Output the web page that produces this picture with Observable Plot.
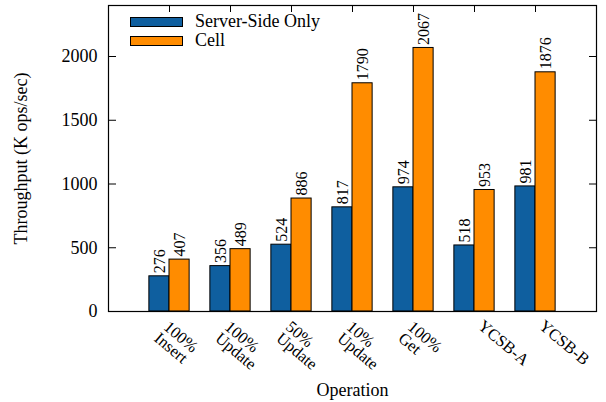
<!DOCTYPE html>
<html>
<head>
<meta charset="utf-8">
<script src="https://cdn.jsdelivr.net/npm/d3@7"></script>
<script src="https://cdn.jsdelivr.net/npm/@observablehq/plot@0.6"></script>
<style>
  html, body { margin: 0; padding: 0; background: white; }
  #wrap { position: relative; width: 606px; height: 402px; font-family: "Liberation Serif", "Times New Roman", serif; }
  #legend { position: absolute; left: 130px; top: 12px; font-size: 18px; color: black; }
  .row { display: flex; align-items: center; height: 19px; }
  .sw { width: 53px; height: 10px; box-sizing: border-box; border: 1px solid black; margin-right: 12px; }
  .lab { line-height: 19px; white-space: nowrap; }
</style>
</head>
<body>
<div id="wrap"></div>
<script>
// ---- data ----
const categories = ["100%\nInsert", "100%\nUpdate", "50%\nUpdate", "10%\nUpdate", "100%\nGet", "YCSB-A", "YCSB-B"];
const serverSide = [276, 356, 524, 817, 974, 518, 981];
const cell = [407, 489, 886, 1790, 2067, 953, 1876];
const seriesNames = ["Server-Side Only", "Cell"];
const yTicks = [0, 500, 1000, 1500, 2000];
const yLabel = "Throughput (K ops/sec)";
const xLabel = "Operation";

// ---- styles ----
const colors = ["#0f5f9f", "#ff8c00"];
const FONT = "'Liberation Serif', 'Times New Roman', serif";
const half = 0.33;
const ROT = 40;

const idx = categories.map((_, i) => i);
const multi = idx.filter(i => categories[i].includes("\n"));
const single = idx.filter(i => !categories[i].includes("\n"));

const chart = Plot.plot({
  width: 606,
  height: 402,
  marginLeft: 108,
  marginRight: 10,
  marginTop: 5,
  marginBottom: 91,
  style: { fontFamily: FONT, background: "white", color: "black" },
  x: { type: "linear", domain: [-1, 7] },
  y: { domain: [0, 2400] },
  marks: [
    // inward tick marks on all four sides
    Plot.axisY({ anchor: "right", frameAnchor: "left", ticks: yTicks, tickSize: 7, tickFormat: () => "", label: null }),
    Plot.axisY({ anchor: "left", frameAnchor: "right", ticks: yTicks, tickSize: 7, tickFormat: () => "", label: null }),
    Plot.axisX({ anchor: "bottom", frameAnchor: "top", ticks: idx, tickSize: 7, tickFormat: () => "", label: null }),
    Plot.axisX({ anchor: "top", frameAnchor: "bottom", ticks: idx, tickSize: 7, tickFormat: () => "", label: null }),
    // bars
    Plot.rectY(idx, { x1: i => i - half, x2: i => i, y1: 0, y2: i => serverSide[i], fill: colors[0], stroke: "black", strokeWidth: 1 }),
    Plot.rectY(idx, { x1: i => i, x2: i => i + half, y1: 0, y2: i => cell[i], fill: colors[1], stroke: "black", strokeWidth: 1 }),
    // value labels
    Plot.text(idx, { x: i => i - half / 2, y: i => serverSide[i], text: i => String(serverSide[i]), rotate: -90, textAnchor: "start", lineAnchor: "middle", dy: -3, fontSize: 16, fill: "black" }),
    Plot.text(idx, { x: i => i + half / 2, y: i => cell[i], text: i => String(cell[i]), rotate: -90, textAnchor: "start", lineAnchor: "middle", dy: -3, fontSize: 16, fill: "black" }),
    // y tick labels
    Plot.axisY({ anchor: "left", ticks: yTicks, tickSize: 0, tickPadding: 11, tickFormat: d => String(d), label: null, fontSize: 18 }),
    // x tick labels (rotated)
    Plot.text(multi, { x: i => i, frameAnchor: "bottom", text: i => categories[i], rotate: ROT, textAnchor: "start", lineAnchor: "top", lineHeight: 0.9, dx: 0, dy: 9, fontSize: 16.5, fill: "black" }),
    Plot.text(single, { x: i => i, frameAnchor: "bottom", text: i => categories[i], rotate: ROT, textAnchor: "start", lineAnchor: "top", dx: 10, dy: 7, fontSize: 16.5, fill: "black" }),
    // axis titles
    Plot.text([yLabel], { frameAnchor: "left", text: d => d, rotate: -90, textAnchor: "middle", lineAnchor: "middle", dx: -87, fontSize: 18, fill: "black" }),
    Plot.text([xLabel], { frameAnchor: "bottom", text: d => d, textAnchor: "middle", lineAnchor: "middle", dy: 79, fontSize: 18, fill: "black" }),
    Plot.frame({ stroke: "black", strokeWidth: 1.2 })
  ]
});

const wrap = document.getElementById("wrap");
wrap.appendChild(chart);

// legend (inside the plot area, top-left)
const legend = document.createElement("div");
legend.id = "legend";
seriesNames.forEach((name, k) => {
  const row = document.createElement("div");
  row.className = "row";
  const sw = document.createElement("div");
  sw.className = "sw";
  sw.style.background = colors[k];
  const lab = document.createElement("span");
  lab.className = "lab";
  lab.textContent = name;
  row.appendChild(sw);
  row.appendChild(lab);
  legend.appendChild(row);
});
wrap.appendChild(legend);
</script>
</body>
</html>
